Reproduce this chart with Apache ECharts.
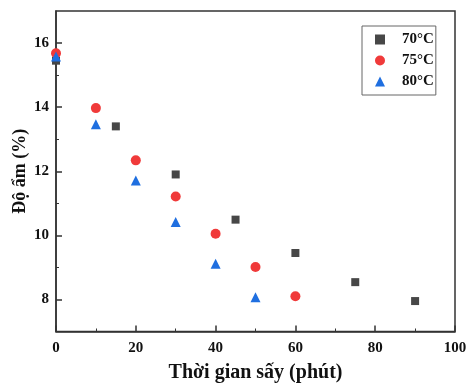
<!DOCTYPE html>
<html><head><meta charset="utf-8">
<script src="https://cdn.jsdelivr.net/npm/echarts@6/dist/echarts.min.js"></script>
<style>html,body{margin:0;padding:0;background:#fff}#c{width:468px;height:385px}</style>
</head><body><div id="c"></div>
<script>
const seriesNames = ['70°C', '75°C', '80°C'];
const time70 = [0, 15, 30, 45, 60, 75, 90];
const moist70 = [15.45, 13.40, 11.90, 10.49, 9.45, 8.54, 7.95];
const time75 = [0, 10, 20, 30, 40, 50, 60];
const moist75 = [15.68, 13.97, 12.34, 11.21, 10.05, 9.01, 8.10];
const time80 = [0, 10, 20, 30, 40, 50];
const moist80 = [15.58, 13.47, 11.71, 10.42, 9.11, 8.07];
const xTicks = [0, 20, 40, 60, 80, 100];
const yTicks = [8, 10, 12, 14, 16];
const yMinorTicks = [9, 11, 13, 15];

const zip = (a, b) => a.map((v, i) => [v, b[i]]);
const font = 'Liberation Serif';
const lineCol = '#333';
const chart = echarts.init(document.getElementById('c'));
chart.setOption({
  animation: false,
  grid: { left: 56, right: 13, top: 11, bottom: 53.5, outerBoundsMode: 'none', containLabel: false, show: true, borderColor: lineCol, borderWidth: 1.5, backgroundColor: 'transparent' },
  legend: {
    orient: 'vertical', left: 362, top: 26,
    borderColor: '#666', borderWidth: 1, padding: [6, 2, 6, 13],
    itemWidth: 10, itemHeight: 10, itemGap: 6,
    textStyle: { fontFamily: font, fontWeight: 'bold', fontSize: 15, color: '#111', padding: [0, 0, 0, 12] },
    data: seriesNames
  },
  xAxis: {
    type: 'value', min: 0, max: 100, interval: 20,
    name: 'Thời gian sấy (phút)', nameLocation: 'middle', nameGap: 31, nameMoveOverlap: false,
    nameTextStyle: { fontFamily: font, fontWeight: 'bold', fontSize: 20, color: '#111' },
    axisLine: { show: true, lineStyle: { color: lineCol, width: 1.5 } },
    axisTick: { show: true, inside: true, length: 6, lineStyle: { color: lineCol, width: 1.5 } },
    minorTick: { show: true, splitNumber: 2, length: 3, lineStyle: { color: lineCol, width: 1 } },
    splitLine: { show: false },
    axisLabel: { fontFamily: font, fontWeight: 'bold', fontSize: 15, color: '#111', margin: 9,
      formatter: v => xTicks.includes(v) ? String(v) : '' }
  },
  yAxis: [{
    type: 'value', min: 7, max: 17,
    name: 'Độ ẩm (%)', nameLocation: 'middle', nameGap: 27, nameMoveOverlap: false,
    nameTextStyle: { fontFamily: font, fontWeight: 'bold', fontSize: 18, color: '#111' },
    axisLine: { show: true, lineStyle: { color: lineCol, width: 1.5 } },
    axisTick: { show: true, inside: true, length: 6, customValues: yTicks, lineStyle: { color: lineCol, width: 1.5 } },
    splitLine: { show: false },
    axisLabel: { fontFamily: font, fontWeight: 'bold', fontSize: 15, color: '#111', margin: 7, customValues: yTicks }
  }, {
    type: 'value', min: 7, max: 17, position: 'left',
    axisLine: { show: false },
    axisTick: { show: true, inside: true, length: 3, customValues: yMinorTicks, lineStyle: { color: lineCol, width: 1 } },
    splitLine: { show: false },
    axisLabel: { show: false }
  }],
  series: [
    { name: seriesNames[0], type: 'scatter', symbol: 'rect', symbolSize: 8, itemStyle: { color: '#474747', opacity: 1 }, data: zip(time70, moist70) },
    { name: seriesNames[1], type: 'scatter', symbol: 'circle', symbolSize: 10, itemStyle: { color: '#f03a3a', opacity: 1 }, data: zip(time75, moist75) },
    { name: seriesNames[2], type: 'scatter', symbol: 'triangle', symbolSize: 10, itemStyle: { color: '#1f6fe0', opacity: 1 }, data: zip(time80, moist80) }
  ]
});
</script></body></html>
